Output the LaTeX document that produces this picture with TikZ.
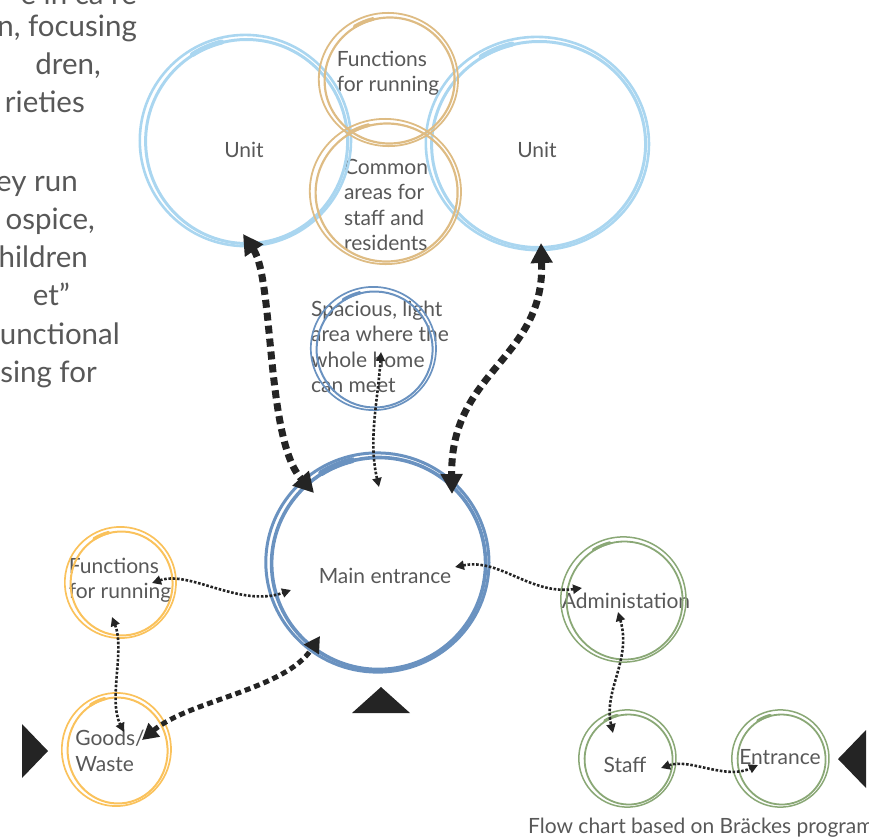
\documentclass[tikz,border=0pt]{standalone}
\usepackage{fontspec}
\setmainfont{Lato}
\usetikzlibrary{arrows.meta}
\definecolor{ublue}{RGB}{170,214,240}
\definecolor{utan}{RGB}{222,188,132}
\definecolor{usteel}{RGB}{106,146,192}
\definecolor{uorange}{RGB}{250,194,92}
\definecolor{ugreen}{RGB}{138,168,118}
\definecolor{utext}{RGB}{88,88,88}
\definecolor{uink}{RGB}{36,36,36}
\newcommand\sketchring[8]{%
  \draw[#2, line width=#7] ([shift={(#3,#4)}]#1.center) ++(0.6,0.5) ellipse [x radius=#5, y radius=#6, rotate=4];
  \draw[#2, line width=#8] ([shift={(#3,#4)}]#1.center) ++(-0.6,-0.5) ellipse [x radius=#5+4.6, y radius=#6+3.6, rotate=-3];
  \draw[#2, line width=#7*1.7, line cap=round] ([shift={(#3,#4)}]#1.center) ++(238:#5 and #6) arc [start angle=238, end angle=256, x radius=#5, y radius=#6];
}
\begin{document}
\begin{tikzpicture}[x=1pt,y=-1pt,
  txt/.style={font=\fontsize{21}{25.5}\selectfont, text=utext, inner sep=0pt, align=left},
  para/.style={font=\fontsize{29.5}{38}\selectfont, text=utext, inner sep=0pt, anchor=base east},
  bigarrow/.style={draw=uink, line width=7, dash pattern=on 8 off 5, <->, >={Triangle[length=20pt,width=21pt]}},
  medarrow/.style={draw=uink, line width=5, dash pattern=on 6 off 4, <->, >={Triangle[length=16pt,width=17pt]}},
  thinarrow/.style={draw=uink, line width=2.6, dash pattern=on 2.6 off 1.7, <->, >={Triangle[length=9pt,width=9pt]}},
  tri/.style={fill=uink}]
\useasboundingbox (0,0) rectangle (869,836);
\clip (0,0) rectangle (869,836);

% paragraph fragments (cut at the left edge)
\node[para] (p0) at (137,4) {e in ca re};
\node[para] (p1) at (137,36) {n, focusing};
\node[para] (p2) at (101,74) {dren,};
\node[para] (p3) at (85,112) {rieties};
\node[para] (p4) at (78,191) {ey run};
\node[para] (p5) at (95,229) {ospice,};
\node[para] (p6) at (88,267) {hildren};
\node[para] (p7) at (70,305) {et”};
\node[para] (p8) at (120,344) {unctional};
\node[para] (p9) at (97,382) {sing for};

% text nodes
\node[txt] (ul) at (244,150) {Unit};
\node[txt] (ur) at (537,150) {Unit};
\node[txt] (tf) at (388,73) {Functions\\for running};
\node[txt] (tc) at (386,205) {Common\\areas for\\staff and\\residents};
\node[txt] (sp) at (380,347) {Spacious, light\\area where the\\whole home\\can meet};
\node[txt] (me) at (385,576) {Main entrance};
\node[txt] (lf) at (120,580) {Functions\\for running};
\node[txt] (gw) at (110,751) {Goods/\\Waste};
\node[txt] (ad) at (626,601) {Administation};
\node[txt] (st) at (625,765) {Staff};
\node[txt] (en) at (780,757) {Entrance};

% sketchy rings
\sketchring{ul}{ublue}{2}{-9}{101}{102}{3}{2.6}
\sketchring{ur}{ublue}{1}{-6}{107}{103}{3}{2.6}
\sketchring{tf}{utan}{1}{7}{65}{63}{2.2}{1.8}
\sketchring{tc}{utan}{0}{-13}{71}{69}{2.2}{1.8}
\sketchring{sp}{usteel}{-6}{2}{58}{58}{2}{1.7}
\sketchring{me}{usteel}{-7}{-13}{107}{106}{3.6}{3}
\sketchring{lf}{uorange}{1}{3}{51}{52}{2}{1.7}
\sketchring{gw}{uorange}{7}{-1}{50}{53}{2}{1.7}
\sketchring{ad}{ugreen}{-2}{-1}{58}{59}{1.8}{1.5}
\sketchring{st}{ugreen}{3}{-6}{44}{45}{1.8}{1.5}
\sketchring{en}{ugreen}{1}{2}{44}{45}{1.8}{1.5}

% entrance triangles
\fill[tri] (22,724) -- (48,751) -- (22,778) -- cycle;
\fill[tri] (352,713) -- (381,687) -- (410,713) -- cycle;
\fill[tri] (866,730) -- (838,759) -- (866,788) -- cycle;

% connectors
\draw[bigarrow] ([shift={(-1,84)}]ul.center) .. controls (274,280) and (266,440) .. ([shift={(-71,-83)}]me.center);
\draw[bigarrow] ([shift={(4,93)}]ur.center) .. controls (545,360) and (450,370) .. ([shift={(67,-82)}]me.center);
\draw[medarrow] ([shift={(32,-11)}]gw.center) .. controls (190,700) and (285,690) .. ([shift={(-65,60)}]me.center);
\draw[thinarrow] ([shift={(1,5)}]sp.center) .. controls (378,400) and (368,440) .. ([shift={(-6,-89)}]me.center);
\draw[thinarrow] ([shift={(32,3)}]lf.center) .. controls (190,570) and (240,608) .. ([shift={(-94,14)}]me.center);
\draw[thinarrow] ([shift={(-8,37)}]lf.center) .. controls (125,650) and (108,700) .. ([shift={(14,-19)}]gw.center);
\draw[thinarrow] ([shift={(70,-9)}]me.center) .. controls (500,558) and (530,595) .. ([shift={(-44,-13)}]ad.center);
\draw[thinarrow] ([shift={(-8,11)}]ad.center) .. controls (632,660) and (603,690) .. ([shift={(-12,-32)}]st.center);
\draw[thinarrow] ([shift={(36,3)}]st.center) .. controls (690,758) and (725,780) .. ([shift={(-22,8)}]en.center);

% caption
\node[font=\fontsize{21}{25}\selectfont, text=utext, inner sep=0pt, anchor=base west] (cap) at (528,833) {Flow chart based on Bräckes program};
\end{tikzpicture}
\end{document}
